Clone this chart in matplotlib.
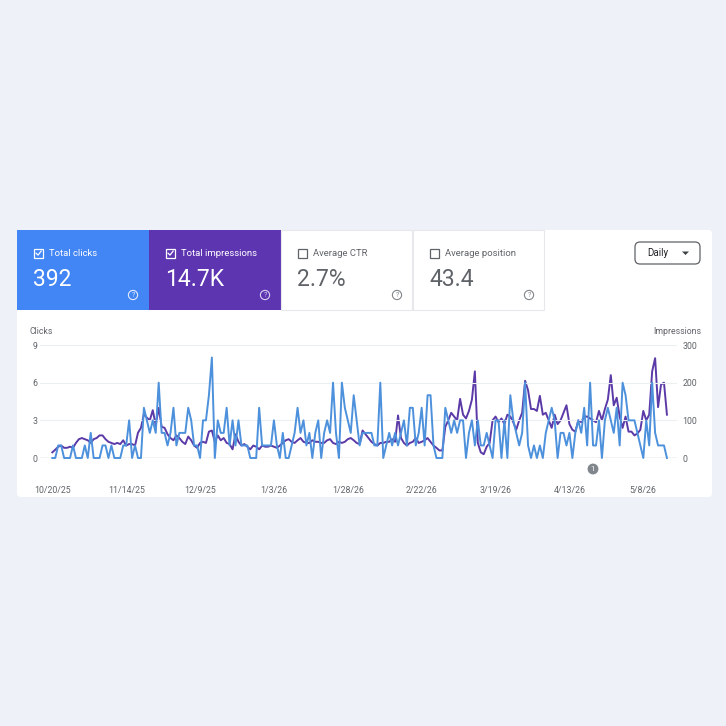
import matplotlib
matplotlib.use("Agg")
import matplotlib.pyplot as plt
from matplotlib.patches import FancyBboxPatch, Rectangle, Circle, Polygon
import numpy as np
import pandas as pd

plt.rcParams['font.family'] = ['Roboto', 'DejaVu Sans']

# ---------------- data ----------------
start_date = "2025-10-20"
clicks = [
    0, 0, 1, 1, 0, 0, 0, 1, 0, 0, 0, 1, 0, 2, 0, 0, 0, 1, 1, 0,
    1, 0, 0, 0, 1, 1, 3, 0, 1, 0, 0, 4, 3, 2, 3, 2, 6, 2, 2, 1,
    2, 4, 1, 2, 2, 2, 4, 3, 1, 1, 0, 3, 3, 5, 8, 0, 3, 2, 2, 4,
    1, 3, 1, 3, 1, 1, 1, 0, 0, 0, 4, 1, 1, 1, 1, 3, 1, 0, 2, 0,
    0, 1, 2, 4, 2, 3, 1, 2, 0, 2, 3, 0, 2, 3, 2, 6, 2, 0, 6, 4,
    3, 2, 5, 3, 1, 2, 2, 2, 2, 1, 1, 6, 0, 1, 2, 1, 2, 1, 2, 3,
    1, 4, 4, 1, 2, 4, 1, 5, 5, 1, 0, 0, 0, 4, 3, 2, 3, 2, 3, 3,
    0, 2, 3, 1, 3, 1, 1, 2, 1, 0, 3, 3, 0, 3, 0, 5, 3, 2, 1, 2,
    6, 1, 0, 1, 0, 1, 0, 2, 3, 4, 3, 0, 2, 2, 1, 2, 0, 2, 3, 2,
    4, 1, 6, 1, 1, 3, 0, 3, 4, 3, 2, 4, 1, 6, 5, 3, 3, 3, 2, 1,
    0, 3, 1, 6, 2, 1, 1, 1, 0,
]
impressions = [
    15, 22, 30, 33, 27, 27, 30, 27, 40, 50, 53, 50, 47, 40, 50, 53, 60, 60, 50, 43,
    40, 37, 40, 37, 47, 33, 37, 37, 33, 67, 80, 117, 107, 100, 127, 87, 133, 83, 80, 63,
    53, 47, 60, 53, 43, 37, 57, 47, 33, 27, 40, 43, 40, 70, 73, 43, 60, 47, 53, 40,
    37, 23, 63, 43, 33, 37, 30, 23, 33, 30, 23, 33, 30, 30, 33, 30, 27, 33, 40, 47,
    50, 43, 40, 47, 53, 43, 40, 40, 47, 43, 43, 40, 40, 47, 50, 40, 37, 43, 40, 43,
    50, 53, 47, 40, 37, 73, 63, 53, 43, 37, 33, 40, 40, 43, 43, 50, 43, 113, 53, 40,
    33, 40, 43, 53, 40, 43, 47, 53, 43, 33, 27, 20, 20, 83, 100, 120, 110, 100, 157, 115,
    105, 125, 155, 230, 40, 15, 10, 30, 40, 100, 110, 95, 105, 90, 115, 110, 95, 75, 100, 120,
    205, 180, 130, 130, 125, 165, 115, 120, 100, 80, 115, 90, 100, 120, 140, 90, 75, 70, 100, 95,
    110, 110, 105, 100, 95, 125, 100, 130, 155, 220, 140, 160, 110, 80, 110, 70, 70, 60, 65, 75,
    125, 100, 115, 230, 265, 135, 195, 200, 115,
]
x_tick_labels = ["10/20/25", "11/14/25", "12/9/25", "1/3/26", "1/28/26",
                 "2/22/26", "3/19/26", "4/13/26", "5/8/26"]
left_ticks = [0, 3, 6, 9]
right_ticks = [0, 100, 200, 300]
metric_labels = ["Total clicks", "Total impressions", "Average CTR", "Average position"]
metric_values = ["392", "14.7K", "2.7%", "43.4"]
metric_checked = [True, True, False, False]

dates = pd.date_range(start_date, periods=len(clicks), freq="D")

# ---------------- figure ----------------
W = H = 726
fig = plt.figure(figsize=(7.26, 7.26), dpi=100)
fig.patch.set_facecolor("#eef2f8")

ov = fig.add_axes([0, 0, 1, 1])
ov.set_xlim(0, W)
ov.set_ylim(H, 0)
ov.axis("off")

# card
ov.add_patch(FancyBboxPatch((17, 230), 695, 267, boxstyle="round,pad=0,rounding_size=4",
                            fc="white", ec="none", zorder=1))

tile_x = [17, 149, 281, 413]
tile_w = 131
tile_fc = ["#4285f4", "#5e35b1", "white", "white"]
for i in range(4):
    x0 = tile_x[i]
    fc = tile_fc[i]
    if fc == "white":
        ov.add_patch(Rectangle((x0, 230), tile_w, 80, fc="white", ec="#e6e8eb", lw=0.8, zorder=2))
    else:
        ov.add_patch(Rectangle((x0, 230), tile_w + 1, 80, fc=fc, ec="none", zorder=2))
    txtc = "white" if metric_checked[i] else "#5f6368"
    # checkbox
    cbx, cby = x0 + 17, 248.5
    ov.add_patch(Rectangle((cbx, cby), 9, 9, fc="none", ec=txtc, lw=0.9, zorder=3))
    if metric_checked[i]:
        ov.plot([cbx + 2, cbx + 4, cbx + 7.3], [cby + 4.6, cby + 6.6, cby + 2.4],
                color=txtc, lw=0.9, zorder=4, solid_capstyle="round")
    ov.text(x0 + 32, 253, metric_labels[i], color=txtc, fontsize=6.8,
            va="center", ha="left", zorder=4)
    ov.text(x0 + 16, 279, metric_values[i], color=txtc, fontsize=16.5,
            va="center", ha="left", zorder=4)
    # help icon
    qx, qy = x0 + 116, 295
    qc = "#e3ecfb" if metric_checked[i] else "#80868b"
    if i == 1:
        qc = "#d9cff0"
    ov.add_patch(Circle((qx, qy), 4.6, fc="none", ec=qc, lw=0.8, zorder=4))
    ov.text(qx, qy + 0.3, "?", color=qc, fontsize=5, ha="center", va="center", zorder=5)

# Daily button
ov.add_patch(FancyBboxPatch((635, 242), 65, 22, boxstyle="round,pad=0,rounding_size=5",
                            fc="white", ec="#5f6368", lw=0.9, zorder=3))
ov.text(647, 253.5, "Daily", color="#202124", fontsize=7, ha="left", va="center", zorder=4)
ov.add_patch(Polygon([[682, 251.5], [689, 251.5], [685.5, 255]], closed=True,
                     fc="#3c4043", ec="none", zorder=4))

# axis titles
ov.text(29, 332, "Clicks", color="#5f6368", fontsize=6.3, ha="left", va="center", zorder=4)
ov.text(701, 332, "Impressions", color="#5f6368", fontsize=6.3, ha="right", va="center", zorder=4)

# ---------------- chart ----------------
px_per_day = 2.955
x0_px = 52.3
ax_left, ax_right = 40, 677
ax_top, ax_bot = 345, 458
ax = fig.add_axes([ax_left / W, 1 - ax_bot / H, (ax_right - ax_left) / W, (ax_bot - ax_top) / H])
ax.set_facecolor("none")
ax2 = ax.twinx()

d0 = dates[0]
day_left = (ax_left - x0_px) / px_per_day
day_right = (ax_right - x0_px) / px_per_day
xlim = (d0 + pd.Timedelta(days=day_left), d0 + pd.Timedelta(days=day_right))

ax.set_xlim(*xlim)
ax.set_ylim(0, 9)
ax2.set_ylim(0, 300)

for v in left_ticks[1:]:
    ax.axhline(v, color="#eceff1", lw=0.8, zorder=0)
ax.axhline(0, color="#9aa0a6", lw=0.9, zorder=1)

ax2.plot(dates, impressions, color="#5b3aa8", lw=1.4, zorder=3, clip_on=False)
ax.plot(dates, clicks, color="#4d91dc", lw=1.4, zorder=4, clip_on=False)
ax.set_zorder(ax2.get_zorder() + 1)

for a in (ax, ax2):
    for s in a.spines.values():
        s.set_visible(False)
    a.tick_params(length=0, labelsize=6.3, labelcolor="#5f6368")

ax.set_yticks(left_ticks)
ax.set_yticklabels([str(v) for v in left_ticks])
ax.tick_params(axis="y", pad=2)
ax2.set_yticks(right_ticks)
ax2.set_yticklabels([str(v) for v in right_ticks])
ax2.tick_params(axis="y", pad=4)

tick_dates = pd.to_datetime(x_tick_labels, format="%m/%d/%y")
ax.set_xticks(tick_dates)
ax.set_xticklabels(x_tick_labels)
ax.tick_params(axis="x", pad=20)

# annotation marker
ov.add_patch(Circle((593, 469), 6, fc="#80868b", ec="white", lw=0.8, zorder=6))
ov.text(593, 469.3, "1", color="white", fontsize=5.5, ha="center", va="center", zorder=7)

fig.savefig("out.png", dpi=100, facecolor=fig.get_facecolor())
